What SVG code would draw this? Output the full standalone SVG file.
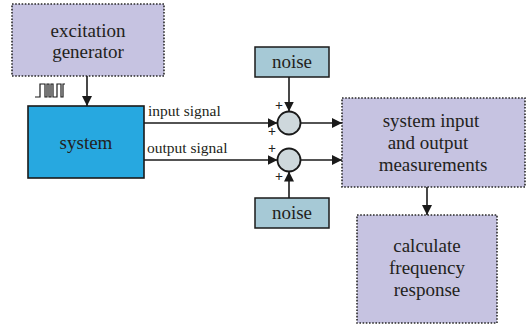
<svg xmlns="http://www.w3.org/2000/svg" width="532" height="331" viewBox="0 0 532 331">
<defs>
<marker id="ah" viewBox="0 0 10 10" refX="10" refY="5" markerWidth="10" markerHeight="10" markerUnits="userSpaceOnUse" orient="auto">
<path d="M0,0 L10,5 L0,10 Z" fill="#1a1a1a"/>
</marker>
<style>
.lav{fill:#c6c3e1;stroke:#2a2a2a;stroke-width:1.6;stroke-dasharray:1.6 1.6}
.noise{fill:#a6c9d6;stroke:#1a1a1a;stroke-width:1.5}
.sys{fill:#27a8e0;stroke:#1a1a1a;stroke-width:1.6}
.sum{fill:#ced8dc;stroke:#1a1a1a;stroke-width:1.8}
text{font-family:'Liberation Serif','Times New Roman','DejaVu Serif',serif;fill:#231f20}
.t{text-anchor:middle;font-size:19px}
.s{font-size:15.5px}
.p{font-size:14px;text-anchor:middle;font-weight:bold}
.c{stroke:#1a1a1a;stroke-width:1.6;fill:none;marker-end:url(#ah)}
</style>
</defs>
<rect width="532" height="331" fill="#ffffff"/>
<g id="excitation">
<rect class="lav" x="12" y="4" width="152" height="72"/>
<text class="t" x="88" y="37">excitation</text>
<text class="t" x="88" y="58">generator</text>
</g>
<path id="wave" d="M35,97 H40 V84 H45 V97 H47 V84 H49 V97 H51 V84 H53 V97 H57 V84 H61 V97 H63 V84 H65" fill="none" stroke="#1a1a1a" stroke-width="1.2"/>
<g id="system">
<rect class="sys" x="28" y="106" width="116" height="72"/>
<text class="t" x="86" y="149">system</text>
</g>
<g id="noise1">
<rect class="noise" x="255" y="47" width="74" height="30"/>
<text class="t" x="292" y="68">noise</text>
</g>
<g id="noise2">
<rect class="noise" x="255" y="198" width="74" height="30"/>
<text class="t" x="292" y="219">noise</text>
</g>
<g id="sum1">
<circle class="sum" cx="289" cy="123" r="11.5"/>
</g>
<g id="sum2">
<circle class="sum" cx="289" cy="160" r="11.5"/>
</g>
<g id="measure">
<rect class="lav" x="342" y="98" width="183" height="89"/>
<text class="t" x="431" y="127">system input</text>
<text class="t" x="428" y="149">and output</text>
<text class="t" x="433" y="171">measurements</text>
</g>
<g id="calc">
<rect class="lav" x="357" y="215" width="140" height="108"/>
<text class="t" x="427" y="252">calculate</text>
<text class="t" x="427" y="274">frequency</text>
<text class="t" x="427" y="296">response</text>
</g>
<g id="connectors">
<line class="c" x1="87" y1="76" x2="87" y2="106"/>
<line class="c" x1="144" y1="123" x2="277.5" y2="123"/>
<line class="c" x1="144" y1="160" x2="277.5" y2="160"/>
<line class="c" x1="289" y1="77" x2="289" y2="111.5"/>
<line class="c" x1="289" y1="198" x2="289" y2="171.5"/>
<line class="c" x1="300.5" y1="123" x2="342" y2="123"/>
<line class="c" x1="300.5" y1="160" x2="342" y2="160"/>
<line class="c" x1="427" y1="187" x2="427" y2="215"/>
</g>
<g id="labels">
<text class="s" x="148" y="116">input signal</text>
<text class="s" x="147" y="153">output signal</text>
<text class="p" x="279" y="110">+</text>
<text class="p" x="272" y="136">+</text>
<text class="p" x="272" y="153">+</text>
<text class="p" x="279" y="181">+</text>
</g>
</svg>
